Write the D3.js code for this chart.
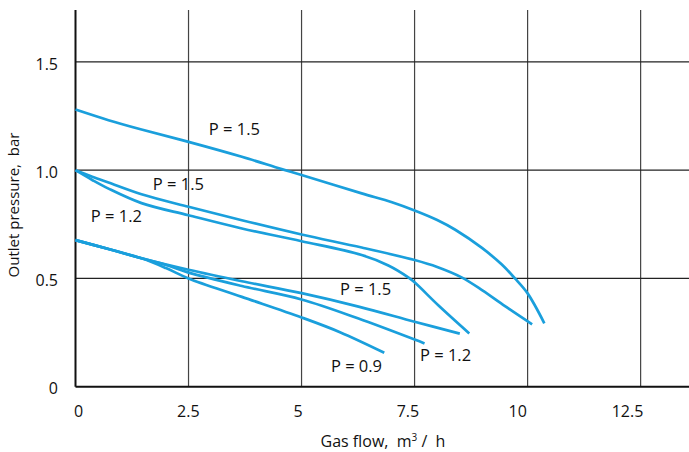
<!DOCTYPE html>
<html>
<head>
<meta charset="utf-8">
<script src="https://cdn.jsdelivr.net/npm/d3@7"></script>
<style>
  html, body { margin: 0; padding: 0; background: #fff; }
  svg { display: block; font-family: "Open Sans", "Noto Sans", sans-serif; }
</style>
</head>
<body>
<svg id="chart" width="689" height="452"></svg>
<script>
// ---- data ----
const xTicks = [0, 2.5, 5, 7.5, 10, 12.5];
const xTickLabels = ["0", "2.5", "5", "7.5", "10", "12.5"];
const yTicks = [0, 0.5, 1.0, 1.5];
const yTickLabels = ["0", "0.5", "1.0", "1.5"];

const curveA_x = [0, 0.73, 1.46, 2.5, 3.68, 4.56, 5.0, 6.33, 7.0, 7.5, 8.0, 8.4, 8.99, 9.43, 9.72, 10.0, 10.37];
const curveA_y = [1.28, 1.231, 1.188, 1.131, 1.062, 1.005, 0.978, 0.893, 0.852, 0.814, 0.77, 0.725, 0.641, 0.564, 0.50, 0.431, 0.293];

const curveB_x = [0, 0.37, 0.73, 1.46, 2.5, 3.68, 5.0, 6.33, 7.5, 8.0, 8.54, 9.0, 9.5, 10.1];
const curveB_y = [1.0, 0.970, 0.943, 0.889, 0.831, 0.769, 0.703, 0.643, 0.585, 0.553, 0.505, 0.445, 0.372, 0.288];

const curveC_x = [0, 0.37, 0.73, 1.46, 2.5, 3.68, 5.0, 6.33, 6.92, 7.36, 7.5, 8.03, 8.71];
const curveC_y = [1.0, 0.955, 0.915, 0.848, 0.792, 0.731, 0.672, 0.608, 0.56, 0.505, 0.482, 0.375, 0.246];

const curveD_x = [0, 0.73, 1.46, 2.5, 3.68, 5.0, 6.26, 7.5, 8.5];
const curveD_y = [0.677, 0.636, 0.593, 0.54, 0.487, 0.432, 0.37, 0.30, 0.245];

const curveE_x = [0, 0.73, 1.46, 2.0, 2.5, 3.68, 5.0, 6.26, 7.5, 7.72];
const curveE_y = [0.677, 0.636, 0.593, 0.562, 0.527, 0.465, 0.403, 0.315, 0.218, 0.2];

const curveF_x = [0, 0.73, 1.46, 2.0, 2.5, 3.68, 5.0, 5.85, 6.83];
const curveF_y = [0.677, 0.636, 0.593, 0.548, 0.50, 0.415, 0.32, 0.252, 0.157];

const labelText = ["P = 1.5", "P = 1.5", "P = 1.2", "P = 1.5", "P = 1.2", "P = 0.9"];
const labelX = [2.95, 1.71, 0.34, 5.85, 7.62, 5.65];
const labelY = [1.162, 0.908, 0.76, 0.423, 0.119, 0.068];

// ---- chart ----
const svg = d3.select("#chart");
const W = 689;
const x = d3.scaleLinear().domain([0, 13.57]).range([75.5, 689]);
const y = d3.scaleLinear().domain([0, 1.74]).range([386.7, 10]);
const xLabelScale = d3.scaleLinear().domain([0, 12.5]).range([78, 627]);

const blue = "#1a9fdc";

// grid
svg.append("g").selectAll("line").data(xTicks.filter(d => d > 0)).join("line")
  .attr("x1", d => x(d)).attr("x2", d => x(d))
  .attr("y1", y(1.74)).attr("y2", y(0))
  .attr("stroke", "#444").attr("stroke-width", 1.2);
svg.append("g").selectAll("line").data(yTicks.filter(d => d > 0)).join("line")
  .attr("x1", x(0)).attr("x2", W)
  .attr("y1", d => y(d)).attr("y2", d => y(d))
  .attr("stroke", "#222").attr("stroke-width", 1.2);

// axis lines
svg.append("line").attr("x1", x(0)).attr("x2", x(0)).attr("y1", y(1.74)).attr("y2", y(0))
  .attr("stroke", "#111").attr("stroke-width", 2);
svg.append("line").attr("x1", x(0)).attr("x2", W).attr("y1", y(0)).attr("y2", y(0))
  .attr("stroke", "#111").attr("stroke-width", 2);

// x tick labels
const xAxis = d3.axisBottom(xLabelScale).tickValues(xTicks)
  .tickFormat((d, i) => xTickLabels[i]).tickSize(0).tickPadding(0);
const gx = svg.append("g").attr("transform", `translate(0, ${y(0) + 19})`).call(xAxis);
gx.select(".domain").remove();
gx.selectAll("text").attr("font-size", 16).attr("fill", "#111")
  .attr("font-family", "'Open Sans', sans-serif");

// y tick labels
const yAxis = d3.axisLeft(y).tickValues(yTicks)
  .tickFormat((d, i) => yTickLabels[i]).tickSize(0).tickPadding(0);
const gy = svg.append("g").attr("transform", `translate(58, 2)`).call(yAxis);
gy.select(".domain").remove();
gy.selectAll("text").attr("font-size", 16).attr("fill", "#111")
  .attr("font-family", "'Open Sans', sans-serif");

// curves
const line = d3.line().x(d => x(d[0])).y(d => y(d[1])).curve(d3.curveCatmullRom.alpha(0.5));
const curves = [
  [curveA_x, curveA_y], [curveB_x, curveB_y], [curveC_x, curveC_y],
  [curveD_x, curveD_y], [curveE_x, curveE_y], [curveF_x, curveF_y]
];
svg.append("g").selectAll("path").data(curves).join("path")
  .attr("d", c => line(c[0].map((v, i) => [v, c[1][i]])))
  .attr("fill", "none").attr("stroke", blue).attr("stroke-width", 2.7)
  .attr("stroke-linecap", "butt");

// curve labels
svg.append("g").selectAll("text").data(labelText).join("text")
  .attr("x", (d, i) => x(labelX[i])).attr("y", (d, i) => y(labelY[i]))
  .attr("font-size", 16.5).attr("fill", "#111").style("white-space", "pre")
  .text(d => d);

// axis titles
const xt = svg.append("text").attr("x", 383).attr("y", 447).attr("text-anchor", "middle")
  .attr("font-size", 16).attr("fill", "#111").style("white-space", "pre");
xt.append("tspan").text("Gas flow,  m");
xt.append("tspan").attr("font-size", 10).attr("dy", -6).text("3");
xt.append("tspan").attr("dy", 6).text(" /  h");

svg.append("text").attr("transform", `translate(19, 205) rotate(-90)`)
  .attr("text-anchor", "middle").attr("font-size", 15).attr("fill", "#111")
  .style("white-space", "pre")
  .text("Outlet pressure,  bar");
</script>
</body>
</html>
